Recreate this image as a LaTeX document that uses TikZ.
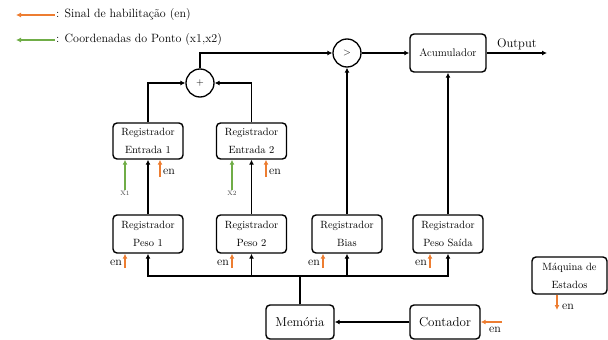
\documentclass[tikz,border=0pt]{standalone}
\usetikzlibrary{arrows.meta,calc}
\definecolor{laranja}{RGB}{237,125,49}
\definecolor{verde}{RGB}{112,173,71}

\begin{document}
\begin{tikzpicture}[x=1pt,y=-1pt]
\tikzset{reg/.style={draw, rounded corners=4pt, line width=1.4pt, minimum width=70pt, minimum height=38pt, align=center, inner sep=0pt, font=\fontsize{10.5}{18}\selectfont}}
\tikzset{bloco/.style={reg, minimum height=34pt, font=\fontsize{13}{15}\selectfont}}
\tikzset{op/.style={draw, circle, line width=1.3pt, minimum size=28pt, inner sep=0pt}}
\tikzset{fio/.style={line width=1.3pt, -{Latex[length=5pt,width=5pt]}}}
\tikzset{habil/.style={fio, laranja}, coord/.style={fio, verde}}
\tikzset{rot/.style={inner sep=1pt, font=\fontsize{12}{12}\selectfont}}
\useasboundingbox (0,0) rectangle (608,340);

% legenda
\node[rot, anchor=west] (leg1) at (55,15) {: Sinal de habilitação (en)};
\node[rot, anchor=west] (leg2) at (55,40) {: Coordenadas do Ponto (x1,x2)};
\coordinate (leg1e) at (16,15);
\coordinate (leg2e) at (16,40);
\draw[habil] (leg1.west) -- (leg1e);
\draw[coord] (leg2.west) -- (leg2e);

% blocos
\node[op] (soma) at (200,83) {$+$};
\node[op] (comp) at (347,53) {$>$};
\node[reg, minimum width=76pt, font=\fontsize{11}{13}\selectfont] (acc) at (448,53) {Acumulador};
\node[reg, minimum height=36pt] (ent1) at (148,141) {Registrador\\Entrada 1};
\node[reg, minimum height=36pt] (ent2) at (251.5,141) {Registrador\\Entrada 2};
\node[reg] (peso1) at (148,234) {Registrador\\Peso 1};
\node[reg] (peso2) at (251.5,234) {Registrador\\Peso 2};
\node[reg] (bias) at (347,234) {Registrador\\Bias};
\node[reg] (pesoS) at (448,234) {Registrador\\Peso Saída};
\node[bloco, minimum width=68pt] (mem) at (300,322) {Memória};
\node[bloco] (cont) at (445,322) {Contador};
\node[reg, minimum width=75pt, minimum height=37pt] (fsm) at (569.5,275.5) {Máquina de\\Estados};

% ligacoes
\draw[fio] (ent1.north) |- (soma.west);
\draw[fio] (ent2.north) |- (soma.east);
\draw[fio] (soma.north) |- (comp.west);
\draw[fio] (comp) -- (acc);
\coordinate (saida) at (547,53);
\draw[fio] (acc.east) -- (saida);
\node[rot, anchor=south, font=\fontsize{12.5}{13}\selectfont] (out) at ($(acc.east)!0.5!(saida)+(0,-2)$) {Output};
\draw[fio] (bias) -- (comp);
\draw[fio] (pesoS) -- (acc);
\draw[fio] (peso1) -- (ent1);
\draw[fio] (peso2) -- (ent2);
\coordinate (bus) at (300,276);
\foreach \r in {peso1,peso2,bias,pesoS}
  \draw[fio] (mem.north) -- (bus) -| (\r);
\draw[fio] (cont) -- (mem);

% coordenadas x1, x2
\node[inner sep=1pt, text=black!75, font=\fontsize{6.5}{7}\selectfont] (x1) at (125,193) {X1};
\node[inner sep=1pt, text=black!75, font=\fontsize{6.5}{7}\selectfont] (x2) at (232,193) {X2};
\draw[coord] (x1.north) -- (x1.north |- ent1.south);
\draw[coord] (x2.north) -- (x2.north |- ent2.south);

% sinais de habilitacao
\coordinate (hE1) at (160,177);
\coordinate (hE2) at (266,177);
\draw[habil] (hE1) -- (hE1 |- ent1.south);
\draw[habil] (hE2) -- (hE2 |- ent2.south);
\node[rot, anchor=west] (lE1) at (162,172) {en};
\node[rot, anchor=west] (lE2) at (268,172) {en};

\coordinate (hP1) at (125,268);
\coordinate (hP2) at (232,268);
\coordinate (hB) at (323,268);
\coordinate (hS) at (430,268);
\draw[habil] (hP1) -- (hP1 |- peso1.south);
\draw[habil] (hP2) -- (hP2 |- peso2.south);
\draw[habil] (hB) -- (hB |- bias.south);
\draw[habil] (hS) -- (hS |- pesoS.south);
\node[rot, anchor=east] (lP1) at (123,263) {en};
\node[rot, anchor=east] (lP2) at (230,263) {en};
\node[rot, anchor=east] (lB) at (321,263) {en};
\node[rot, anchor=east] (lS) at (428,263) {en};

\coordinate (hC) at (502,322);
\draw[habil] (hC) -- (cont.east);
\node[rot] (lC) at (495,330) {en};

\coordinate (hF) at (557,310);
\draw[habil] (fsm.south -| hF) -- (hF);
\node[rot, anchor=west] (lF) at (561,307) {en};
\end{tikzpicture}
\end{document}
